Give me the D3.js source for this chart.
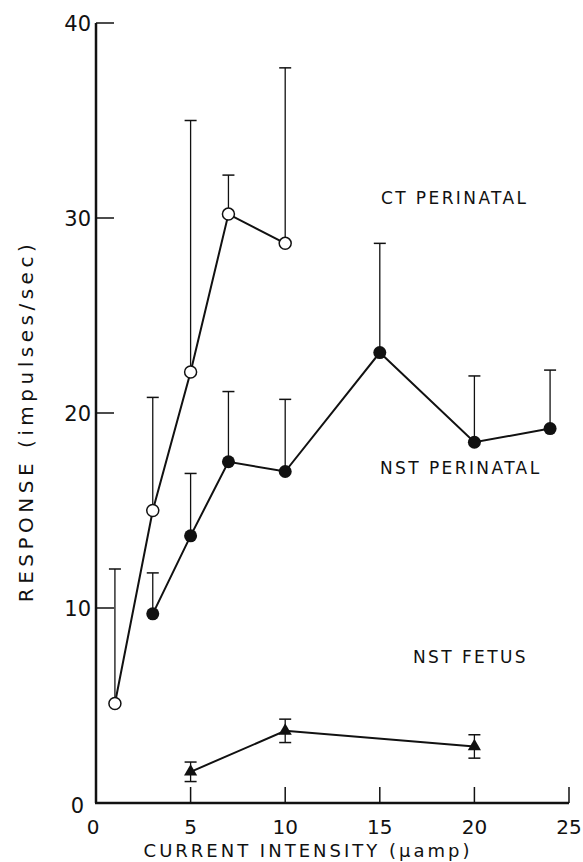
<html>
<head><script src="https://d3js.org/d3.v7.min.js"></script></head>
<style>
    body { margin: 0; background: white; }
    text { font-family: "DejaVu Sans", sans-serif; fill: #111; }
</style>
<body>
<svg id="chart" width="583" height="862"></svg>
<script>
    // CT perinatal (open circles), error bars up only
    const ctX = [1, 3, 5, 7, 10]
    const ctY = [5.1, 15.0, 22.1, 30.2, 28.7]
    const ctErr = [6.9, 5.8, 12.9, 2.0, 9.0]

    // NST perinatal (filled circles), error bars up only
    const nstX = [3, 5, 7, 10, 15, 20, 24]
    const nstY = [9.7, 13.7, 17.5, 17.0, 23.1, 18.5, 19.2]
    const nstErr = [2.1, 3.2, 3.6, 3.7, 5.6, 3.4, 3.0]

    // NST fetus (filled triangles), error bars both ways
    const fetX = [5, 10, 20]
    const fetY = [1.6, 3.7, 2.9]
    const fetErr = [0.5, 0.6, 0.6]

    const xTicks = [0, 5, 10, 15, 20, 25]
    const yTicks = [0, 10, 20, 30, 40]

    const svg = d3.select("svg#chart")
    const x = d3.scaleLinear().domain([0, 25]).range([96, 569])
    const y = d3.scaleLinear().domain([0, 40]).range([803, 23])

    // axes
    svg.append("line").attr("x1", x(0)).attr("x2", x(0)).attr("y1", y(0)).attr("y2", y(40))
        .attr("stroke", "#111").attr("stroke-width", 2.5)
    svg.append("line").attr("x1", x(0) - 1).attr("x2", x(25)).attr("y1", y(0)).attr("y2", y(0))
        .attr("stroke", "#111").attr("stroke-width", 2.5)

    svg.selectAll(".ytick").data(yTicks.filter(d => d > 0)).join("line")
        .attr("x1", x(0)).attr("x2", x(0) + 18)
        .attr("y1", d => y(d)).attr("y2", d => y(d))
        .attr("stroke", "#111").attr("stroke-width", 1.5)
    svg.selectAll(".xtick").data(xTicks.filter(d => d > 0)).join("line")
        .attr("x1", d => x(d)).attr("x2", d => x(d))
        .attr("y1", y(0)).attr("y2", y(0) - 16)
        .attr("stroke", "#111").attr("stroke-width", 1.5)

    svg.selectAll(".ylab").data(yTicks).join("text")
        .attr("x", d => x(0) - (d === 0 ? 12 : 5)).attr("y", d => y(d) + (d === 0 ? 10 : 8))
        .attr("text-anchor", "end").attr("font-size", 21)
        .text(d => d)
    svg.selectAll(".xlab").data(xTicks).join("text")
        .attr("x", d => x(d) - (d === 0 ? 3 : 0)).attr("y", 834)
        .attr("text-anchor", "middle").attr("font-size", 20)
        .text(d => d)

    svg.append("text").attr("x", 308).attr("y", 857).attr("text-anchor", "middle")
        .attr("font-size", 18).attr("letter-spacing", 3)
        .text("CURRENT  INTENSITY (\u03bcamp)")
    svg.append("text").attr("transform", "translate(33,421) rotate(-90)")
        .attr("text-anchor", "middle").attr("font-size", 20).attr("letter-spacing", 4.5)
        .text("RESPONSE  (impulses/sec)")

    // series labels
    svg.append("text").attr("x", 381).attr("y", 204).attr("font-size", 17).attr("letter-spacing", 2.4).text("CT  PERINATAL")
    svg.append("text").attr("x", 380).attr("y", 474).attr("font-size", 17).attr("letter-spacing", 2.4).text("NST  PERINATAL")
    svg.append("text").attr("x", 413).attr("y", 663).attr("font-size", 17).attr("letter-spacing", 2.4).text("NST  FETUS")

    function drawSeries(xs, ys, errs, both) {
        const pts = xs.map((d, i) => ({x: d, y: ys[i], e: errs[i]}))
        const g = svg.append("g")
        g.selectAll(".err").data(pts).join("line")
            .attr("x1", d => x(d.x)).attr("x2", d => x(d.x))
            .attr("y1", d => y(both ? d.y - d.e : d.y)).attr("y2", d => y(d.y + d.e))
            .attr("stroke", "#111").attr("stroke-width", 1.3)
        g.selectAll(".cap").data(pts).join("line")
            .attr("x1", d => x(d.x) - 6).attr("x2", d => x(d.x) + 6)
            .attr("y1", d => y(d.y + d.e)).attr("y2", d => y(d.y + d.e))
            .attr("stroke", "#111").attr("stroke-width", 1.5)
        if (both) {
            g.selectAll(".cap2").data(pts).join("line")
                .attr("x1", d => x(d.x) - 6).attr("x2", d => x(d.x) + 6)
                .attr("y1", d => y(d.y - d.e)).attr("y2", d => y(d.y - d.e))
                .attr("stroke", "#111").attr("stroke-width", 1.5)
        }
        g.append("path").datum(pts)
            .attr("d", d3.line().x(d => x(d.x)).y(d => y(d.y)))
            .attr("fill", "none").attr("stroke", "#111").attr("stroke-width", 2)
        return {g, pts}
    }

    const ct = drawSeries(ctX, ctY, ctErr, false)
    ct.g.selectAll("circle").data(ct.pts).join("circle")
        .attr("cx", d => x(d.x)).attr("cy", d => y(d.y)).attr("r", 6)
        .attr("fill", "white").attr("stroke", "#111").attr("stroke-width", 1.5)

    const nst = drawSeries(nstX, nstY, nstErr, false)
    nst.g.selectAll("circle").data(nst.pts).join("circle")
        .attr("cx", d => x(d.x)).attr("cy", d => y(d.y)).attr("r", 6.5)
        .attr("fill", "#111")

    const fet = drawSeries(fetX, fetY, fetErr, true)
    fet.g.selectAll("path.tri").data(fet.pts).join("path").attr("class", "tri")
        .attr("transform", d => `translate(${x(d.x)},${y(d.y)})`)
        .attr("d", d3.symbol(d3.symbolTriangle, 75))
        .attr("fill", "#111")
</script>
</body>
</html>
